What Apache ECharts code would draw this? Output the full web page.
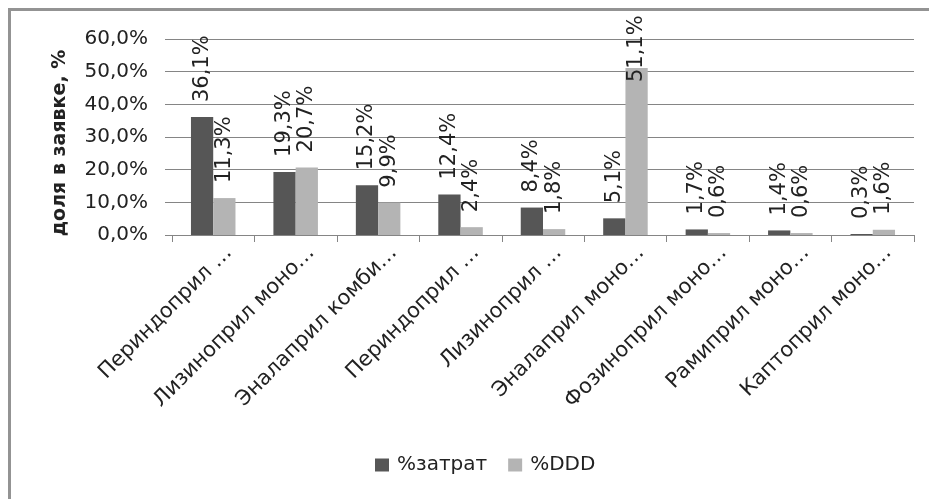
<!DOCTYPE html>
<html>
<head>
<meta charset="utf-8">
<script src="https://cdn.jsdelivr.net/npm/echarts@6/dist/echarts.min.js"></script>
<style>
  html, body { margin: 0; padding: 0; background: #ffffff; width: 929px; height: 499px; overflow: hidden; }
  #frame { position: absolute; left: 8px; top: 8px; width: 960px; height: 520px;
           border-top: 3px solid #939393; border-left: 3px solid #939393; box-sizing: border-box; }
  #chart { position: absolute; left: 0; top: 0; width: 929px; height: 499px; }
</style>
</head>
<body>
<div id="frame"></div>
<div id="chart"></div>
<script>
// Drug names (truncated as on the axis)
const categories = [
  'Периндоприл …',
  'Лизиноприл моно…',
  'Эналаприл комби…',
  'Периндоприл …',
  'Лизиноприл …',
  'Эналаприл моно…',
  'Фозиноприл моно…',
  'Рамиприл моно…',
  'Каптоприл моно…'
];

// Share of spending, %
const costShare = [36.1, 19.3, 15.2, 12.4, 8.4, 5.1, 1.7, 1.4, 0.3];
// Share of DDD, %
const dddShare = [11.3, 20.7, 9.9, 2.4, 1.8, 51.1, 0.6, 0.6, 1.6];

const seriesNames = ['%затрат', '%DDD'];
const yAxisTitle = 'доля в заявке, %';

const FONT = 'DejaVu Sans';
const TEXT = '#222222';
const LINE = '#858585';
const fmt = v => v.toFixed(1).replace('.', ',') + '%';

// labels that would run past the top of the plot are tucked into the bar
const withLabelFit = arr => arr.map(v => v > 45 ? { value: v, label: { distance: -14 } } : v);

const chart = echarts.init(document.getElementById('chart'), null, { renderer: 'canvas' });

const valueLabel = {
  show: true,
  position: 'top',
  rotate: 90,
  align: 'left',
  verticalAlign: 'middle',
  distance: 15,
  fontFamily: FONT,
  fontSize: 21,
  color: TEXT,
  formatter: p => fmt(p.value)
};

chart.setOption({
  backgroundColor: 'transparent',
  animation: false,
  grid: { left: 172, right: 15, top: 39, bottom: 264 },
  legend: {
    data: seriesNames,
    left: 370,
    top: 450,
    icon: 'rect',
    itemWidth: 14,
    itemHeight: 13,
    itemGap: 21,
    textStyle: { fontFamily: FONT, fontSize: 20, color: TEXT, padding: [0, 0, 0, 3] }
  },
  xAxis: {
    type: 'category',
    data: categories,
    axisLine: { lineStyle: { color: LINE, width: 1 } },
    axisTick: { show: true, length: 7, lineStyle: { color: LINE } },
    axisLabel: {
      interval: 0,
      rotate: 45,
      margin: 30,
      padding: [0, -22, 0, 0],
      fontFamily: FONT,
      fontSize: 21,
      color: TEXT
    }
  },
  yAxis: {
    type: 'value',
    min: 0,
    max: 60,
    interval: 10,
    name: yAxisTitle,
    nameLocation: 'middle',
    nameGap: 102,
    nameTextStyle: {
      fontFamily: FONT, fontSize: 19, fontWeight: 'bold', color: TEXT,
      padding: [0, 12, 0, 0]
    },
    axisLine: { show: false },
    axisTick: { show: true, length: 7, lineStyle: { color: LINE } },
    splitLine: { lineStyle: { color: LINE, width: 1 } },
    axisLabel: {
      margin: 24,
      fontFamily: FONT,
      fontSize: 20,
      color: TEXT,
      formatter: v => fmt(v)
    }
  },
  series: [
    {
      name: seriesNames[0],
      type: 'bar',
      data: withLabelFit(costShare),
      barCategoryGap: '46%',
      barGap: '0%',
      itemStyle: { color: '#565656' },
      label: valueLabel
    },
    {
      name: seriesNames[1],
      type: 'bar',
      data: withLabelFit(dddShare),
      barCategoryGap: '46%',
      barGap: '0%',
      itemStyle: { color: '#b4b4b4' },
      label: valueLabel
    }
  ]
});
</script>
</body>
</html>
